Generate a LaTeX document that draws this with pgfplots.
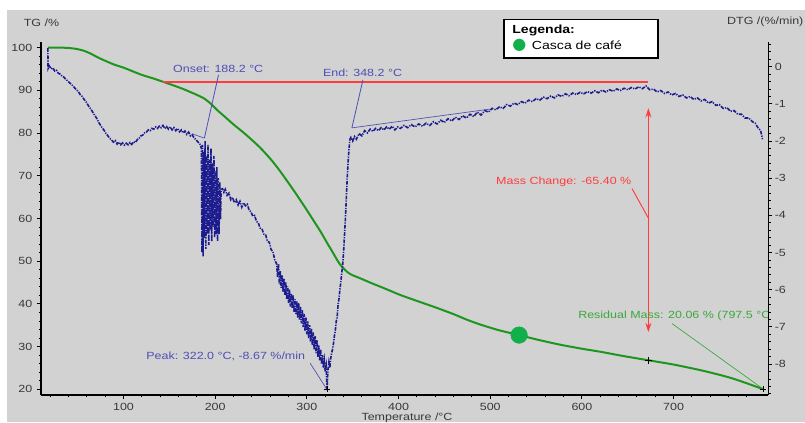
\documentclass[border=0pt]{standalone}
\usepackage{fontspec}
\setmainfont{Liberation Sans}[FakeStretch=1.2]
\newfontfamily\symfont{DejaVu Sans}
\usepackage{pgfplots}
\pgfplotsset{compat=1.18}
\usetikzlibrary{arrows.meta}

\definecolor{bg}{HTML}{D2D2D2}
\definecolor{tgg}{HTML}{1E961E}
\definecolor{dotg}{HTML}{12B04A}
\definecolor{dtgb}{HTML}{1C1C8E}
\definecolor{annb}{HTML}{4E4EB4}
\definecolor{annr}{HTML}{FF3C3C}
\definecolor{anng}{HTML}{3AA83A}
\definecolor{tickgray}{HTML}{383838}

\newcommand\fs{\fontsize{7.8}{9}\selectfont}
\newcommand\legfont{\fontsize{8.8}{10}\selectfont}

\pgfplotsset{
  tgaxis/.style={
    at={(0pt,0pt)}, anchor=south west,
    scale only axis, width=545.6pt, height=264.75pt,
    xmin=10, xmax=803.5,
    axis line style={black, line width=1.4pt},
    tick style={black, line width=0.7pt},
    tick align=outside,
    major tick length=3pt, minor tick length=1.8pt,
    ticklabel style={font=\fs, text=tickgray},
    /pgf/number format/assume math mode=true,
  }
}

% TG curve (%)
\pgfplotstableread{
T TG
17.5 100
30 100
40 99.9
48 99.7
56 99.3
64 98.6
71 97.8
80 96.9
90 96.0
100 95.3
107 94.7
120 93.6
132 92.8
143 92.0
155 91.1
165 90.3
176 89.3
187 88.2
195 86.9
202 85.4
210 83.9
220 82.0
232 79.9
245 77.4
252 75.9
262 73.5
271 71.0
280 68.3
289 65.5
298 62.6
307 59.6
315 56.9
322 54.3
327 52.5
332.7 50.4
336 49.3
340 48.3
345 47.3
350 46.7
358 46.0
370 44.9
385 43.6
401.7 42.1
420 40.7
440 39.2
460 37.6
474.5 36.3
490 35.1
510 33.8
531.5 32.7
550 31.7
575 30.5
600 29.5
620 28.8
645 27.8
672.5 26.8
700 25.8
729 24.5
750 23.4
765 22.5
780 21.4
797.5 20.06
}\tgdata

% DTG curve (%/min)
\pgfplotstableread{
T DTG
17.5 0.50
17.7 -0.05
19 0.02
21 -0.06
23 -0.03
25 -0.12
27 -0.10
29 -0.18
31 -0.20
33 -0.26
35 -0.28
37 -0.34
39 -0.38
41 -0.43
43 -0.47
45 -0.52
47 -0.58
49 -0.63
51 -0.68
53 -0.76
55 -0.80
57 -0.88
59 -0.94
61 -1.02
63 -1.10
65 -1.16
67 -1.25
69 -1.32
71 -1.40
73 -1.50
75 -1.58
77 -1.65
79 -1.72
81 -1.80
83 -1.86
85 -1.93
87 -1.97
89 -2.03
91 -1.99
93 -2.08
95 -2.03
97 -2.10
99 -2.05
101 -2.11
103 -2.06
105 -2.10
107 -2.04
109 -2.09
111 -2.02
113 -2.04
115 -1.96
117 -1.93
119 -1.86
121 -1.84
123 -1.78
125 -1.76
127 -1.70
129 -1.72
131 -1.66
133 -1.68
135 -1.62
137 -1.66
139 -1.60
141 -1.64
143 -1.58
145 -1.66
147 -1.61
149 -1.68
151 -1.62
153 -1.70
155 -1.64
157 -1.72
159 -1.66
161 -1.75
163 -1.70
165 -1.78
167 -1.73
169 -1.82
171 -1.76
173 -1.86
175 -1.83
177 -1.92
179 -1.96
181 -2.02
183 -2.06
185 -2.20
185.6 -5.0
186.2 -2.1
186.8 -5.1
187.5 -2.3
188.2 -4.6
189 -2.0
189.8 -4.9
190.6 -2.4
191.4 -4.5
192.2 -2.1
193 -4.8
193.8 -2.5
194.6 -4.4
195.4 -2.2
196.2 -4.7
197 -2.6
197.8 -4.3
198.6 -2.4
199.4 -4.6
200.2 -2.8
201 -4.5
201.8 -2.7
202.6 -4.7
203.4 -3.0
204.2 -4.5
205 -3.1
205.8 -4.1
206.5 -3.3
208 -3.28
209.5 -3.38
211 -3.30
213 -3.46
215 -3.40
217 -3.58
219 -3.52
221 -3.66
223 -3.58
225 -3.72
227 -3.62
229 -3.78
231 -3.66
233 -3.74
235 -3.70
237 -3.86
239 -3.90
241 -4.02
243 -4.00
245 -4.16
247 -4.20
249 -4.34
251 -4.36
253 -4.50
255 -4.52
257 -4.70
259 -4.72
261 -4.92
263 -4.98
265 -5.20
267 -5.30
268 -5.65
269 -5.30
270 -5.85
271 -5.50
272 -5.95
273 -5.60
274 -6.05
275 -5.70
276 -6.15
277 -5.80
278 -6.25
279 -5.90
280 -6.35
281 -6.00
282 -6.45
283 -6.10
284 -6.50
285 -6.15
286 -6.60
287 -6.25
288 -6.65
289 -6.30
290 -6.75
291 -6.35
292 -6.80
293 -6.45
294 -6.90
295 -6.55
296 -7.00
297 -6.65
298 -7.10
299 -6.75
300 -7.20
301 -6.85
302 -7.30
303 -6.95
304 -7.40
305 -7.05
306 -7.50
307 -7.15
308 -7.60
309 -7.25
310 -7.70
311 -7.35
312 -7.80
313 -7.50
314 -7.90
315 -7.60
316 -8.00
317 -7.75
318 -8.10
319 -7.90
320 -8.20
321 -8.05
322 -8.67
323 -8.15
324 -7.95
325 -8.10
326 -7.85
327 -7.70
328 -7.60
329 -7.45
330 -7.25
331 -7.10
332 -6.85
333 -6.75
334 -6.40
335 -6.25
336 -6.00
337 -5.80
338 -5.55
339 -5.35
340 -5.00
341 -4.55
342 -4.10
343 -3.55
344 -3.00
345 -2.55
346 -2.20
347 -1.95
348 -1.90
350 -2.00
352 -1.88
354 -1.95
357 -1.80
360 -1.86
363 -1.72
366 -1.78
369 -1.68
372 -1.74
375 -1.66
378 -1.72
381 -1.64
384 -1.70
387 -1.62
390 -1.68
393 -1.60
396 -1.70
399 -1.62
402 -1.66
406 -1.58
410 -1.64
414 -1.56
418 -1.62
422 -1.54
426 -1.60
430 -1.52
434 -1.58
438 -1.48
442 -1.54
446 -1.44
450 -1.50
454 -1.40
458 -1.46
462 -1.36
466 -1.42
470 -1.32
474 -1.38
478 -1.28
482 -1.34
486 -1.22
490 -1.30
494 -1.18
498 -1.22
502 -1.12
506 -1.16
510 -1.08
514 -1.12
518 -1.02
522 -1.06
526 -0.98
530 -1.02
534 -0.94
538 -0.98
542 -0.90
546 -0.94
550 -0.86
554 -0.90
558 -0.82
562 -0.86
566 -0.79
570 -0.84
574 -0.76
578 -0.80
582 -0.73
586 -0.78
590 -0.71
594 -0.75
598 -0.69
602 -0.73
606 -0.67
610 -0.71
614 -0.65
618 -0.70
622 -0.63
626 -0.68
630 -0.62
634 -0.66
638 -0.60
642 -0.64
646 -0.58
650 -0.62
654 -0.56
658 -0.60
662 -0.54
666 -0.59
670 -0.52
674 -0.62
678 -0.60
682 -0.68
686 -0.64
690 -0.72
694 -0.68
698 -0.76
702 -0.72
706 -0.80
710 -0.76
714 -0.84
718 -0.80
722 -0.88
726 -0.84
730 -0.92
734 -0.88
738 -0.98
742 -0.94
746 -1.04
750 -1.02
754 -1.12
758 -1.10
762 -1.20
766 -1.18
770 -1.28
774 -1.28
778 -1.38
782 -1.38
786 -1.48
789 -1.52
792 -1.64
795 -1.72
797 -1.95
}\dtgdata

\begin{document}
\begin{tikzpicture}
\useasboundingbox (-30.75pt,-20.25pt) rectangle (573pt,296.25pt);
\fill[bg] (-25.5pt,-20.25pt) rectangle (573pt,288.75pt);

% left axis: TG
\begin{axis}[tgaxis,
  ymin=18.67, ymax=101.3,
  axis x line*=bottom, axis y line*=left,
  xtick={100,200,...,700}, ytick={20,30,...,100},
  minor xtick={20,40,...,780}, minor ytick={22,24,...,100},
]
\addplot[tgg, line width=1.5pt, smooth, tension=0.4] table[x=T, y=TG] {\tgdata};
\addplot[only marks, mark=*, mark size=6.2pt, dotg] coordinates {(531.5,32.7)};
\addplot[only marks, mark=+, mark size=2.5pt, black, line width=0.6pt] coordinates {(672.5,26.8) (797.5,20.06)};

\draw[draw=annr, line width=1.3pt] (axis cs:143.5,92.0) -- (axis cs:672.5,92.0);
\draw[annr, line width=0.9pt, {Stealth[length=7pt,width=4.5pt]}-{Stealth[length=7pt,width=4.5pt]}]
  (axis cs:672.5,85.8) -- (axis cs:672.5,33.4);
\draw[annr, line width=0.7pt] (axis cs:654.6,67.0) -- (axis cs:672.7,60.0);
\node[text=annr, font=\fs] at (axis cs:580.2,68.6) {Mass Change: -65.40 \%};

\node[text=annb, font=\fs] at (axis cs:203.3,94.9) {Onset: 188.2 °C};
\draw[annb, line width=0.6pt] (axis cs:203.6,93.6) -- (axis cs:188.2,78.8);
\draw[annb, line width=0.5pt] (axis cs:175,79.8) -- (axis cs:188.2,78.8);
\node[text=annb, font=\fs] at (axis cs:360.7,94.1) {End: 348.2 °C};
\draw[annb, line width=0.6pt] (axis cs:361.1,92.4) -- (axis cs:349.1,81.2);
\draw[annb, line width=0.5pt] (axis cs:349.1,81.2) -- (axis cs:500,85.6);
\node[text=annb, font=\fs] at (axis cs:211.5,27.6) {Peak: 322.0 °C, -8.67 \%/min};
\draw[annb, line width=0.5pt] (axis cs:303.6,26.1) -- (axis cs:321.8,20.0);
\node[text=anng, font=\fs, anchor=west] at (axis cs:590.9,37.2) {Residual Mass: 20.06 \% (797.5 °C};
\draw[anng, line width=0.5pt] (axis cs:698.2,35.4) -- (axis cs:797.5,20.1);
\end{axis}

% right axis: DTG
\begin{axis}[tgaxis,
  ymin=-8.83, ymax=0.664,
  axis x line=none, axis y line*=right,
  ytick={-8,-7,...,0}, yticklabels={-8,-7,-6,-5,-4,-3,-2,-1,0},
  minor ytick={-8.8,-8.6,...,0.6},
  yticklabel style={inner xsep=1.5pt},
]
\addplot[dtgb, line width=1.2pt, dash pattern=on 2.8pt off 0.9pt on 0.9pt off 0.9pt] table[x=T, y=DTG] {\dtgdata};
\addplot[only marks, mark=+, mark size=2.5pt, black, line width=0.6pt] coordinates {(322,-8.67)};
\end{axis}

% axis titles
\node[text=tickgray, font=\fs, inner sep=0pt] at (0.4pt,279.2pt) {TG /\%};
\node[text=tickgray, font=\fs, inner sep=0pt, anchor=east] at (572pt,279.75pt) {DTG /(\%/min)};
\node[text=tickgray, font=\fs, inner sep=0pt, anchor=north] at (274.5pt,-13.2pt) {Temperature /°C};

% legend box
\node[draw=black, line width=1pt, fill=white, anchor=north west, minimum width=115.5pt, minimum height=28.7pt, inner sep=0pt] at (346.7pt,282pt) {};
\node[anchor=west, inner sep=0pt, font=\legfont\bfseries] at (353.3pt,273.2pt) {Legenda:};
\node[inner sep=0pt, text=dotg, font=\symfont\fontsize{12}{12}\selectfont] at (358.7pt,262.5pt) {●};
\node[anchor=west, inner sep=0pt, font=\legfont] at (368pt,262.5pt) {Casca de café};
\end{tikzpicture}
\end{document}
